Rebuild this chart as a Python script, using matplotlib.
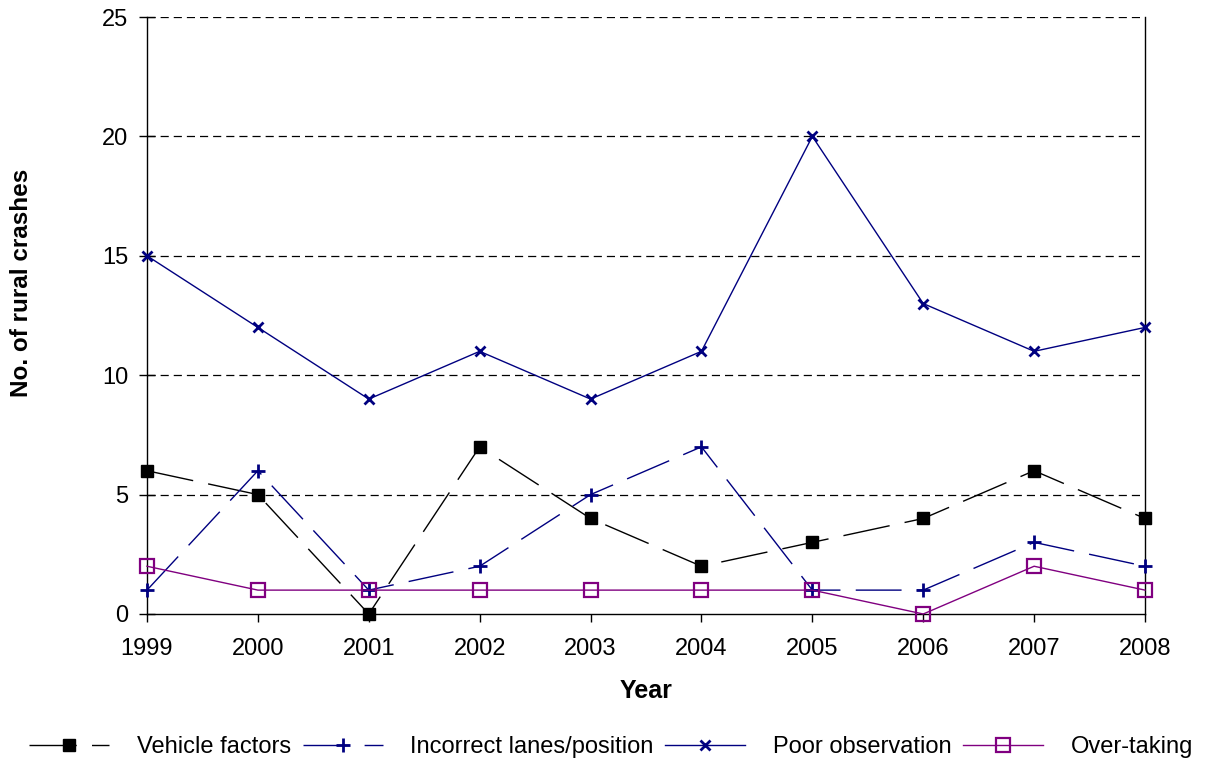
import matplotlib
matplotlib.use("Agg")
import matplotlib.pyplot as plt

plt.rcParams['font.family'] = ['Liberation Sans', 'DejaVu Sans']

years = [1999, 2000, 2001, 2002, 2003, 2004, 2005, 2006, 2007, 2008]
vehicle = [6, 5, 0, 7, 4, 2, 3, 4, 6, 4]
incorrect = [1, 6, 1, 2, 5, 7, 1, 1, 3, 2]
poor = [15, 12, 9, 11, 9, 11, 20, 13, 11, 12]
overtaking = [2, 1, 1, 1, 1, 1, 1, 0, 2, 1]
yticks = [0, 5, 10, 15, 20, 25]

W, H = 1214, 765
fig = plt.figure(figsize=(W / 100, H / 100), dpi=100)
x0, x1, yt, yb = 147, 1145, 17, 614
ax = fig.add_axes([x0 / W, 1 - yb / H, (x1 - x0) / W, (yb - yt) / H])

for y in yticks[1:]:
    ax.axhline(y, color='black', lw=0.9, ls=(0, (6.5, 4)), zorder=0)

navy = '#000080'
purple = '#800080'
ax.plot(years, vehicle, color='black', lw=1, ls=(0, (34, 11)), marker='s', ms=8,
        mfc='black', mec='black', label='Vehicle factors', clip_on=False, zorder=3)
ax.plot(years, incorrect, color=navy, lw=1, ls=(0, (33, 11)), marker='+', ms=10,
        mew=2, label='Incorrect lanes/position', clip_on=False, zorder=3)
ax.plot(years, poor, color=navy, lw=1, ls='-', marker='x', ms=7.5, mew=2,
        label='Poor observation', clip_on=False, zorder=3)
ax.plot(years, overtaking, color=purple, lw=1, ls='-', marker='s', ms=10,
        mfc='none', mec=purple, mew=1.6, label='Over-taking', clip_on=False, zorder=4)

ax.set_xlim(1999, 2008)
ax.set_ylim(0, 25)
ax.set_xticks(years)
ax.set_yticks(yticks)
ax.tick_params(axis='x', labelsize=17, direction='out', length=6, width=1, pad=11)
ax.tick_params(axis='y', labelsize=17, direction='inout', length=11, width=1, pad=8)
ax.spines['top'].set_visible(False)
for s in ['left', 'right', 'bottom']:
    ax.spines[s].set_linewidth(1)

fig.text(646 / W, 1 - 691 / H, 'Year', fontsize=18, fontweight='bold',
         ha='center', va='center')
fig.text(22 / W, 1 - 283 / H, 'No. of rural crashes', fontsize=17.5, fontweight='bold',
         ha='center', va='center', rotation=90)

fig.legend(loc='center', bbox_to_anchor=(611 / W, 1 - 747 / H), ncol=4, frameon=False,
           fontsize=17, handlelength=3.4, columnspacing=0.5, handletextpad=1.15,
           borderaxespad=0, borderpad=0)

fig.savefig('out.png', dpi=100)
